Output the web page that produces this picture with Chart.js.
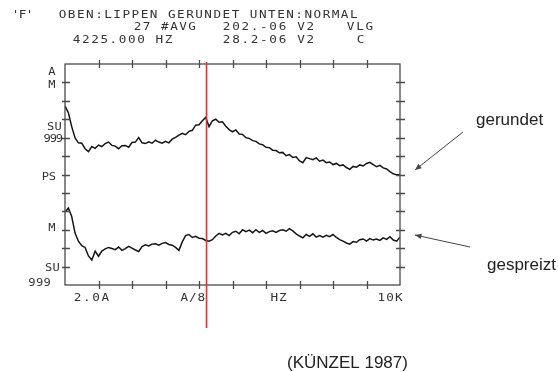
<!DOCTYPE html>
<html>
<head>
<meta charset="utf-8">
<script src="https://cdn.jsdelivr.net/npm/chart.js@4/dist/chart.umd.min.js"></script>
<style>
  html, body { margin: 0; padding: 0; background: #fff; }
  #spec { display: block; }
</style>
</head>
<body>
<canvas id="spec" width="558" height="372"></canvas>
<script>
// frequency grid (Hz), one sample every 100 Hz
const freqHz = [
  0, 100, 200, 300, 400, 500, 600, 700, 800, 900,
  1000, 1100, 1200, 1300, 1400, 1500, 1600, 1700, 1800, 1900,
  2000, 2100, 2200, 2300, 2400, 2500, 2600, 2700, 2800, 2900,
  3000, 3100, 3200, 3300, 3400, 3500, 3600, 3700, 3800, 3900,
  4000, 4100, 4200, 4300, 4400, 4500, 4600, 4700, 4800, 4900,
  5000, 5100, 5200, 5300, 5400, 5500, 5600, 5700, 5800, 5900,
  6000, 6100, 6200, 6300, 6400, 6500, 6600, 6700, 6800, 6900,
  7000, 7100, 7200, 7300, 7400, 7500, 7600, 7700, 7800, 7900,
  8000, 8100, 8200, 8300, 8400, 8500, 8600, 8700, 8800, 8900,
  9000, 9100, 9200, 9300, 9400, 9500, 9600, 9700, 9800, 9900,
  10000
];

// upper trace: lips rounded (dB)
const gerundet = [
  48.6, 46.8, 43.0, 39.9, 38.6, 38.5, 37.0, 36.2, 37.6, 37.1,
  38.0, 37.6, 38.4, 38.8, 37.9, 37.7, 37.0, 37.8, 37.9, 37.4,
  38.7, 38.8, 40.0, 38.6, 38.4, 38.9, 38.5, 39.3, 38.8, 38.5,
  39.0, 38.6, 39.6, 40.1, 40.7, 41.2, 40.8, 41.7, 42.0, 43.4,
  43.5, 44.6, 45.5, 43.0, 44.6, 45.0, 44.2, 44.3, 43.1, 42.2,
  41.6, 42.1, 41.0, 40.9, 40.0, 39.8, 39.2, 39.0, 38.3, 38.1,
  37.4, 37.3, 36.6, 36.5, 35.9, 36.0, 35.1, 35.4, 34.6, 34.8,
  33.7, 33.2, 34.6, 34.3, 34.0, 34.5, 33.6, 33.9, 33.2, 33.4,
  32.7, 33.0, 32.4, 32.6, 31.9, 31.4, 32.2, 32.0, 32.6, 32.3,
  33.0, 33.3, 32.7, 32.1, 32.5, 31.8, 31.5, 30.8, 30.2, 29.9,
  29.9
];

// lower trace: lips spread / normal (dB)
const gespreizt = [
  19.8, 20.9, 18.6, 14.1, 11.9, 10.7, 10.2, 7.9, 6.8, 9.2,
  7.8, 9.2, 9.8, 10.2, 9.9, 9.6, 10.3, 9.4, 9.9, 10.5,
  10.0, 9.5, 9.1, 10.4, 10.9, 10.6, 11.1, 11.2, 10.8, 11.3,
  11.5, 11.0, 10.8, 10.2, 9.4, 11.7, 13.4, 13.7, 12.9, 13.2,
  12.7, 12.6, 12.1, 11.9, 12.3, 13.3, 14.0, 13.6, 14.0, 13.4,
  14.3, 14.6, 13.9, 15.0, 14.5, 14.9, 14.2, 15.0, 14.3, 14.8,
  14.0, 14.5, 14.7, 14.3, 14.8, 15.0, 14.6, 15.3, 14.7, 13.9,
  13.3, 12.8, 13.7, 13.2, 13.9, 13.0, 13.4, 13.0, 13.5, 13.1,
  13.7, 12.9, 12.3, 11.9, 11.4, 11.1, 11.8, 11.6, 12.3, 12.5,
  11.9, 12.6, 12.2, 12.5, 12.1, 12.8, 12.4, 13.1, 12.2, 11.9,
  13.0
];

const cursorHz = 4225;
const xTickHz = [1000, 2000, 3000, 4000, 5000, 6000, 7000, 8000, 9000];
const yTickDb = [5, 10, 15, 20, 25, 30, 35, 40, 45, 50, 55];

const headerRows = [
  { y: 15, parts: [["'F'", 12, 7], ["OBEN:LIPPEN GERUNDET UNTEN:NORMAL", 58, 9.1]] },
  { y: 27, parts: [["27 #AVG", 133, 9.1], ["202.-06 V2", 222, 9.3], ["VLG", 346, 9.3]] },
  { y: 40, parts: [["4225.000 HZ", 72, 9.2], ["28.2-06 V2", 222, 9.3], ["C", 356, 9]] }
];
const leftLabels = [
  ["A", 48, 72, 8], ["M", 48, 85, 8], ["SU", 47, 127, 7.5], ["999", 44, 139, 6.2],
  ["PS", 42, 177, 7], ["M", 48, 228, 8], ["SU", 45, 268, 7.5], ["999", 28, 283, 7.7]
];
const bottomLabels = [["2.0A", 73, 9.2], ["A/8", 180, 8.5], ["HZ", 270, 8.5], ["10K", 377, 8.7]];

function spaced(ctx, text, x, y, pitch, sx) {
  for (let i = 0; i < text.length; i++) {
    ctx.save();
    ctx.translate(x + pitch * (i + 0.5), y);
    ctx.scale(sx, 1);
    ctx.fillText(text[i], 0, 0);
    ctx.restore();
  }
}

function arrow(ctx, x1, y1, x2, y2) {
  ctx.beginPath();
  ctx.moveTo(x1, y1);
  ctx.lineTo(x2, y2);
  ctx.stroke();
  const a = Math.atan2(y2 - y1, x2 - x1);
  ctx.beginPath();
  ctx.moveTo(x2, y2);
  ctx.lineTo(x2 - 7 * Math.cos(a - 0.4), y2 - 7 * Math.sin(a - 0.4));
  ctx.lineTo(x2 - 7 * Math.cos(a + 0.4), y2 - 7 * Math.sin(a + 0.4));
  ctx.closePath();
  ctx.fill();
}

const printout = {
  id: 'printout',
  afterDraw(chart) {
    const ctx = chart.ctx;
    const { left, right, top, bottom } = chart.chartArea;
    const xs = chart.scales.x, ys = chart.scales.y;
    ctx.save();

    // frame + tick marks
    ctx.strokeStyle = '#4a4a4a';
    ctx.lineWidth = 1.3;
    ctx.strokeRect(left, top, right - left, bottom - top);
    ctx.beginPath();
    xTickHz.forEach(f => {
      const px = Math.round(xs.getPixelForValue(f)) + 0.5;
      ctx.moveTo(px, top - 4); ctx.lineTo(px, top + 4);
      ctx.moveTo(px, bottom - 4); ctx.lineTo(px, bottom + 4);
    });
    yTickDb.forEach(d => {
      const py = Math.round(ys.getPixelForValue(d)) + 0.5;
      ctx.moveTo(left - 3, py); ctx.lineTo(left + 5, py);
      ctx.moveTo(right - 4, py); ctx.lineTo(right + 5, py);
    });
    ctx.stroke();

    // printer text
    ctx.fillStyle = '#333';
    ctx.textAlign = 'center';
    ctx.textBaseline = 'middle';
    ctx.font = '11px "DejaVu Sans Mono"';
    headerRows.forEach(r => r.parts.forEach(p => spaced(ctx, p[0], p[1], r.y, p[2], 1.15)));
    leftLabels.forEach(l => spaced(ctx, l[0], l[1], l[2], l[3], 1.1));
    bottomLabels.forEach(b => spaced(ctx, b[0], b[1], 298, b[2], 1.15));

    // annotations
    ctx.fillStyle = '#222';
    ctx.textAlign = 'left';
    ctx.textBaseline = 'alphabetic';
    ctx.font = '17px "Liberation Sans", Arial, sans-serif';
    ctx.fillText('gerundet', 476, 125);
    ctx.fillText('gespreizt', 487, 270);
    ctx.fillText('(KÜNZEL 1987)', 287, 368);
    ctx.strokeStyle = '#444';
    ctx.fillStyle = '#444';
    ctx.lineWidth = 1;
    arrow(ctx, 463, 132, 415, 170);
    arrow(ctx, 470, 247, 415, 235);

    // cursor line
    const cx = xs.getPixelForValue(cursorHz);
    ctx.strokeStyle = '#d23a3a';
    ctx.lineWidth = 1.6;
    ctx.beginPath();
    ctx.moveTo(cx, top - 2);
    ctx.lineTo(cx, 328);
    ctx.stroke();
    ctx.restore();
  }
};

const series = vals => freqHz.map((f, i) => ({ x: f, y: vals[i] }));

new Chart(document.getElementById('spec'), {
  type: 'line',
  data: {
    datasets: [
      { label: 'gerundet', data: series(gerundet), borderColor: '#151515', borderWidth: 1.5, pointRadius: 0, tension: 0 },
      { label: 'gespreizt', data: series(gespreizt), borderColor: '#151515', borderWidth: 1.5, pointRadius: 0, tension: 0 }
    ]
  },
  options: {
    responsive: false,
    animation: false,
    devicePixelRatio: 1,
    layout: { padding: { left: 65, top: 64, right: 158, bottom: 87 } },
    plugins: { legend: { display: false }, tooltip: { enabled: false } },
    scales: {
      x: { type: 'linear', min: 0, max: 10000, display: false },
      y: { min: 0, max: 60, display: false }
    }
  },
  plugins: [printout]
});
</script>
</body>
</html>
